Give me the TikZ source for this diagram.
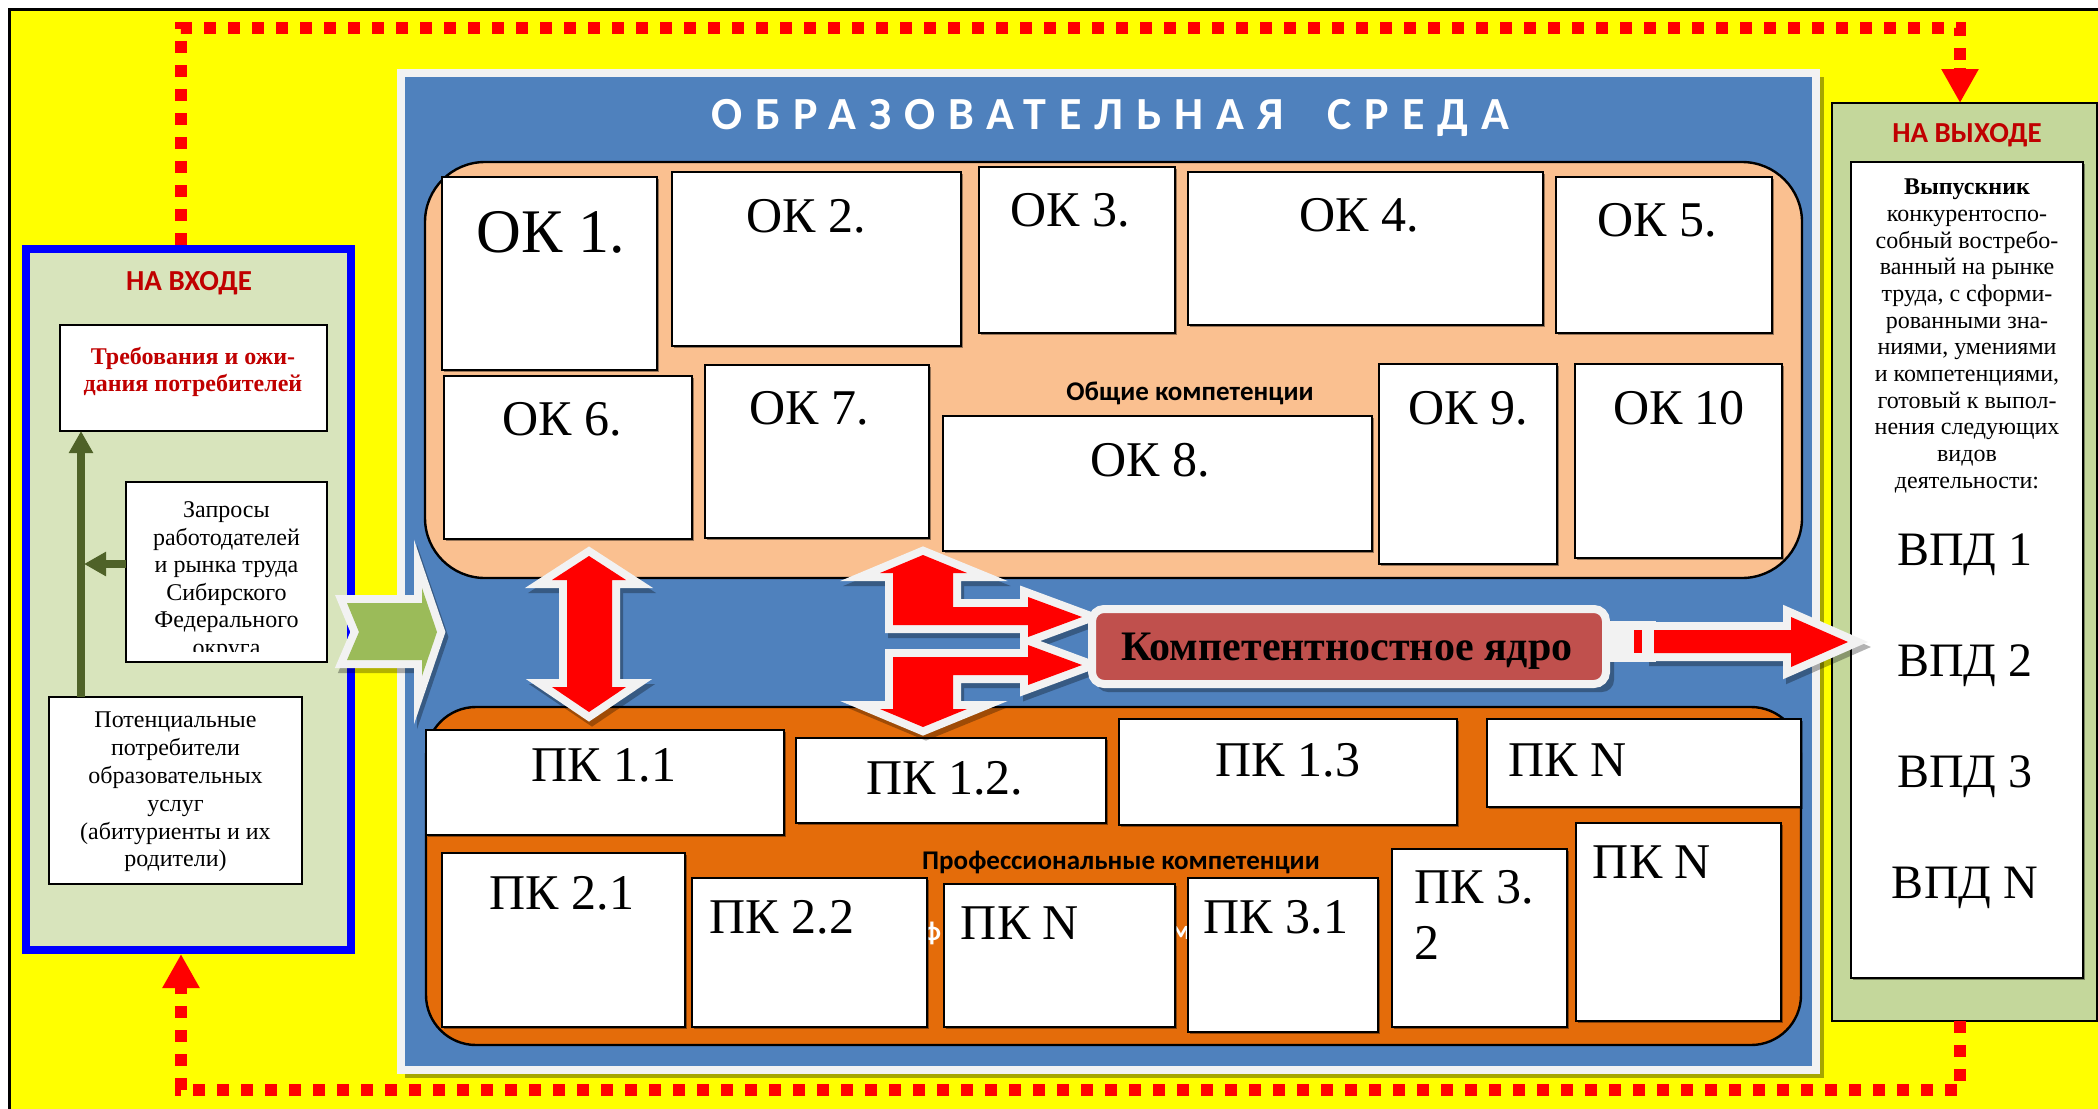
\documentclass[tikz,border=0pt]{standalone}
\usepackage{fontspec}
\setmainfont{Liberation Serif}
\newfontfamily\calib{Carlito}
\newfontfamily\titlef[LetterSpace=28]{Carlito}
\usetikzlibrary{arrows.meta,shadows}
\definecolor{yel}{HTML}{FFFF00}
\definecolor{envblue}{HTML}{4F81BD}
\definecolor{ltgray}{HTML}{F2F2F2}
\definecolor{peach}{HTML}{FAC090}
\definecolor{orng}{HTML}{E46C0A}
\definecolor{corec}{HTML}{C0504D}
\definecolor{dred}{HTML}{C00000}
\definecolor{ingreen}{HTML}{D8E4BC}
\definecolor{outgreen}{HTML}{C4D79B}
\definecolor{chev}{HTML}{9BBB59}
\definecolor{dgreen}{HTML}{4F6228}
\definecolor{blu}{HTML}{0000FF}
\newcommand\rbox[6]{\node[#6, minimum width={(#4-(#2))*0.5pt}, minimum height={(#5-(#3))*0.5pt}] (#1) at ({(#2+#4)/2},{(#3+#5)/2}) {};}
\newcommand\uparr[1]{\path[#1] (923,555) -- (967,573) -- (953,573) -- (953,607) -- (1028,607) -- (1028,597) -- (1082,617) -- (1028,637) -- (1028,625) -- (893,625) -- (893,573) -- (880,573) -- cycle;}
\newcommand\dnarr[1]{\path[#1] (923,727) -- (967,709) -- (953,709) -- (953,675) -- (1028,675) -- (1028,685) -- (1082,665) -- (1028,645) -- (1028,657) -- (893,657) -- (893,709) -- (880,709) -- cycle;}
\newcommand\dblarr[1]{\path[#1] (589,556) -- (626,580) -- (612,580) -- (612,687) -- (626,687) -- (589,712) -- (552,687) -- (567,687) -- (567,580) -- (552,580) -- cycle;}
\newcommand\chevarr[1]{\path[#1] (347,603) -- (422,603) -- (422,588) -- (437,632) -- (422,676) -- (422,660) -- (347,660) -- (359,632) -- cycle;}
\newcommand\rarr[1]{\path[#1] (1654,630) -- (1791,630) -- (1791,617) -- (1848,642) -- (1791,667) -- (1791,653) -- (1654,653) -- cycle;}
\begin{document}
\begin{tikzpicture}[x=0.5pt,y=-0.5pt,
  wbox/.style={draw=black, fill=white, line width=1.1pt, inner sep=0pt, outer sep=0pt,
    drop shadow={shadow xshift=0.9pt, shadow yshift=-0.9pt, fill=black, opacity=0.4}},
  plainbox/.style={draw=black, fill=white, line width=0.9pt, inner sep=0pt, outer sep=0pt},
  lab/.style={font=\fontsize{25}{28}\selectfont, inner sep=0pt},
  biglab/.style={font=\fontsize{31}{34}\selectfont, inner sep=0pt},
  vpd/.style={font=\fontsize{24}{28}\selectfont, inner sep=0pt},
  small/.style={font=\fontsize{12}{13.6}\selectfont, align=center, inner sep=0pt},
  seclab/.style={font=\calib\bfseries\fontsize{13.5}{16}\selectfont, inner sep=0pt},
  head/.style={font=\calib\bfseries\fontsize{14.5}{17}\selectfont, text=dred, inner sep=0pt},
  reddash/.style={draw=red, line width=6pt, dash pattern=on 6pt off 6pt},
  redtip/.style={-{Triangle[width=17.5pt,length=17pt]}},
  garrow/.style={draw=dgreen, line width=4pt, -{Triangle[width=11.5pt,length=11pt]}},
  arrshadow/.style={fill=black, draw=black, opacity=0.3, line width=8pt, line join=miter, shift={(3,5)}},
  arrout/.style={draw=ltgray, fill=ltgray, line width=8pt, line join=miter},
  arrin/.style={fill=red},
]
\useasboundingbox (0,0) rectangle (2098,1108);
\clip (0,0) rectangle (2098,1108);
\fill[white] (0,0) rectangle (2098,1108);
\path[fill=yel, draw=black, line width=1.5pt] (9,9) rectangle (2130,1140);

% ---- educational environment ----
\fill[black, opacity=0.35] (405,77) rectangle (1824,1078);
\rbox{env}{401}{73}{1816}{1070}{draw=ltgray, fill=envblue, line width=4pt, inner sep=0pt, outer sep=0pt}
\node[font=\titlef\bfseries\fontsize{23}{26}\selectfont, text=white, inner sep=0pt] (title) at (1110,118) {ОБРАЗОВАТЕЛЬНАЯ\hspace{22pt}СРЕДА};

% general competences
\rbox{gen}{425}{162}{1802}{578}{draw=black, fill=peach, line width=1.2pt, rounded corners=30pt, inner sep=0pt, outer sep=0pt}
\node[seclab] (genlab) at (1190,393) {Общие компетенции};
\rbox{ok1}{442}{177}{657}{370}{wbox}
\rbox{ok2}{672}{172}{961}{346}{wbox}
\rbox{ok3}{979}{167}{1175}{333}{wbox}
\rbox{ok4}{1188}{172}{1543}{325}{wbox}
\rbox{ok5}{1556}{177}{1772}{333}{wbox}
\rbox{ok6}{444}{376}{692}{539}{wbox}
\rbox{ok7}{705}{365}{929}{538}{wbox}
\rbox{ok8}{943}{416}{1372}{551}{wbox}
\rbox{ok9}{1379}{364}{1557}{564}{wbox}
\rbox{ok10}{1575}{364}{1782}{558}{wbox}
\node[biglab] (tok1) at (551,232) {ОК 1.};
\node[lab] (tok2) at (806,216) {ОК 2.};
\node[lab] (tok3) at (1070,210) {ОК 3.};
\node[lab] (tok4) at (1359,215) {ОК 4.};
\node[lab] (tok5) at (1657,220) {ОК 5.};
\node[lab] (tok6) at (562,419) {ОК 6.};
\node[lab] (tok7) at (809,408) {ОК 7.};
\node[lab] (tok8) at (1150,460) {ОК 8.};
\node[lab] (tok9) at (1468,408) {ОК 9.};
\node[lab] (tok10) at (1679,408) {ОК 10};

% professional competences
\rbox{prof}{426}{707}{1801}{1045}{draw=black, fill=orng, line width=1.2pt, rounded corners=25pt, inner sep=0pt, outer sep=0pt}
\node[seclab] (proflab) at (1121,862) {Профессиональные компетенции};
\node[seclab, text=white] (frag1) at (932,933) {ф};
\node[seclab, text=white] (frag2) at (1181,933) {м};
\rbox{pk11}{426}{730}{784}{835}{wbox}
\rbox{pk12}{796}{738}{1106}{823}{wbox}
\rbox{pk13}{1119}{719}{1457}{825}{wbox}
\rbox{pkn1}{1487}{719}{1801}{807}{wbox}
\rbox{pk21}{442}{853}{685}{1027}{wbox}
\rbox{pk22}{692}{878}{927}{1027}{wbox}
\rbox{pkn2}{944}{884}{1175}{1027}{wbox}
\rbox{pk31}{1188}{878}{1378}{1032}{wbox}
\rbox{pk32}{1392}{849}{1567}{1027}{wbox}
\rbox{pkn3}{1576}{823}{1781}{1021}{wbox}
\node[lab] (tpk11) at (604,765) {ПК 1.1};
\node[lab] (tpk12) at (945,778) {ПК 1.2.};
\node[lab] (tpk13) at (1288,760) {ПК 1.3};
\node[lab, anchor=west] (tpkn1) at (1508,760) {ПК N};
\node[lab] (tpk21) at (562,893) {ПК 2.1};
\node[lab] (tpk22) at (782,917) {ПК 2.2};
\node[lab] (tpkn2) at (1020,923) {ПК N};
\node[lab] (tpk31) at (1276,917) {ПК 3.1};
\node[lab, align=left, anchor=west] (tpk32) at (1414,915) {ПК 3.\\2};
\node[lab] (tpkn3) at (1652,862) {ПК N};

% ---- input ----
\rbox{inbox}{26}{249}{351}{950}{draw=blu, fill=ingreen, line width=4pt, inner sep=0pt, outer sep=2pt}
\node[head] (inhead) at (189,283) {НА ВХОДЕ};
\rbox{req}{60}{325}{327}{431}{plainbox}
\node[small, font=\bfseries\fontsize{12}{13.6}\selectfont, text=dred] (treq) at (193,372) {Требования и ожи-\\дания потребителей};
\rbox{zap}{126}{482}{327}{662}{plainbox}
\begin{scope}
\clip (126,482) rectangle (327,651);
\node[small, font=\fontsize{12}{13.75}\selectfont] (tzap) at (226.5,581) {Запросы\\работодателей\\и рынка труда\\Сибирского\\Федерального\\округа};
\end{scope}
\rbox{pot}{49}{697}{302}{884}{plainbox}
\node[small, font=\fontsize{12}{13.9}\selectfont] (tpot) at (175.5,792) {Потенциальные\\потребители\\образовательных\\услуг\\(абитуриенты и их\\родители)};
\coordinate (gx) at (81,0);
\coordinate (gh) at (84,564);
\draw[garrow] (pot.north -| gx) -- (req.south -| gx);
\draw[garrow] (zap.west |- gh) -- (gh);

% ---- output ----
\rbox{outbox}{1832}{103}{2097}{1021}{draw=black, fill=outgreen, line width=1pt, inner sep=0pt, outer sep=0pt}
\node[head] (outhead) at (1967,135) {НА ВЫХОДЕ};
\rbox{grad}{1851}{162}{2083}{978}{wbox}
\node[small, font=\fontsize{12}{13.33}\selectfont] (tgrad) at (1967,336) {\textbf{Выпускник}\\конкурентоспо-\\собный востребо-\\ванный на рынке\\труда, с сформи-\\рованными зна-\\ниями, умениями\\и компетенциями,\\готовый к выпол-\\нения следующих\\видов\\деятельности:};
\node[vpd] (v1) at (1965,555) {ВПД 1};
\node[vpd] (v2) at (1965,666) {ВПД 2};
\node[vpd] (v3) at (1965,777) {ВПД 3};
\node[vpd] (vn) at (1965,888) {ВПД N};

% ---- red feedback loop ----
\coordinate (c1) at (181,28);
\coordinate (c2) at (1960,28);
\coordinate (c3) at (181,1090);
\coordinate (c4) at (1960,1090);
\draw[reddash] (inbox.north -| c1) -- (c1) -- (c2) -- ([yshift=17pt]outbox.north -| c2);
\draw[red, line width=6pt, redtip] ([yshift=17.5pt]outbox.north -| c2) -- (outbox.north -| c2);
\draw[reddash] (outbox.south -| c4) -- (c4) -- (c3) -- ([yshift=-17pt]inbox.south -| c3);
\draw[red, line width=6pt, redtip] ([yshift=-17.5pt]inbox.south -| c3) -- (inbox.south -| c3);

% ---- block arrows ----
\dblarr{arrshadow}\dblarr{arrout}\dblarr{arrin}
\uparr{arrshadow}\dnarr{arrshadow}
\uparr{arrout}\dnarr{arrout}
\uparr{arrin}\dnarr{arrin}
\chevarr{arrshadow}\chevarr{arrout}
\chevarr{fill=chev}

% ---- competence core ----
\fill[black, opacity=0.3, rounded corners=6pt] (1096,617) rectangle (1614,692);
\rbox{core}{1092}{609}{1606}{684}{draw=ltgray, fill=corec, line width=4pt, rounded corners=6pt, inner sep=0pt, outer sep=0pt}
\node[font=\bfseries\fontsize{21}{24}\selectfont, inner sep=0pt] (tcore) at (1347,651) {Компетентностное ядро};
\rarr{arrshadow}\rarr{arrout}
\fill[ltgray] (1608,621) rectangle (1656,662);
\rarr{arrin}
\fill[red] (1634,630) rectangle (1642,653);
\end{tikzpicture}
\end{document}
